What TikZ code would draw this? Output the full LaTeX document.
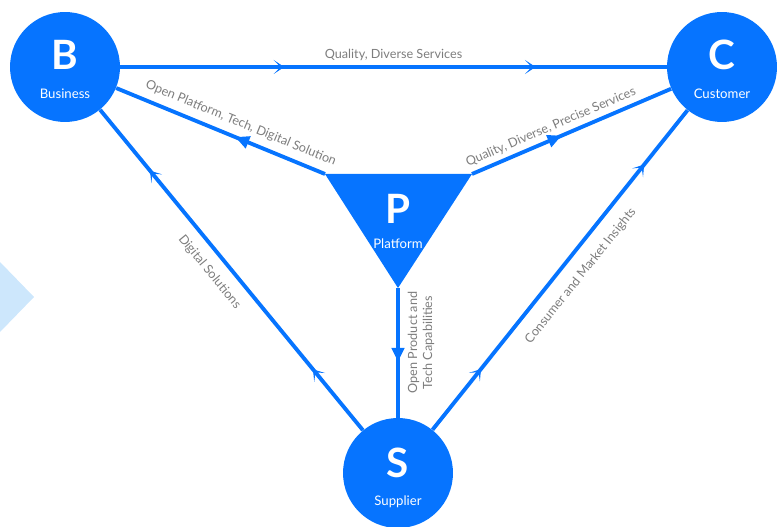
\documentclass[tikz,border=0pt]{standalone}
\usepackage{fontspec}
\setmainfont{Lato}
\usepackage{xcolor}
\usetikzlibrary{arrows.meta, positioning, decorations.markings}

\definecolor{hubblue}{RGB}{6,116,255}
\definecolor{flowgray}{RGB}{125,125,125}
\definecolor{paleblue}{RGB}{205,231,252}

\tikzset{
  chev/.tip={Stealth[length=6pt,width=8pt,inset=3.8pt]},
  tri/.tip={Triangle[length=8pt,width=7pt]},
}

\begin{document}
\begin{tikzpicture}[x=0.02cm, y=-0.02cm,
    hub/.style={circle, fill=hubblue, minimum size=2.2cm, inner sep=0pt},
    letter/.style={anchor=base, text=white, font=\fontsize{23}{23}\selectfont\bfseries},
    hubname/.style={anchor=base, text=white, font=\fontsize{7.5}{9}\selectfont},
    link/.style={draw=hubblue, line width=2.2pt},
    flowplain/.style={text=flowgray, font=\fontsize{7.2}{8.5}\selectfont, inner sep=1pt},
    flowtext/.style={flowplain, sloped},
    twochev/.style 2 args={postaction={decorate}, decoration={markings,
        mark=at position #1 with {\arrow{chev}},
        mark=at position #2 with {\arrow{chev}}}},
    onetri/.style={postaction={decorate}, decoration={markings,
        mark=at position #1 with {\arrow{tri}}}}
]
    \useasboundingbox (0,0) rectangle (778,527);

    % Side marker
    \fill[paleblue] (0,262) -- (34,297) -- (0,332) -- cycle;

    % Parties
    \node[hub] (B) at (65,67) {};
    \node[hub] (C) at (722,67) {};
    \node[hub] (S) at (398,473) {};

    % Platform corners
    \coordinate (pl) at (325,174);
    \coordinate (pr) at (472,174);
    \coordinate (pb) at (398,288);

    % Flows
    \draw[link, twochev={0.3}{0.76}] (B) -- (C)
        node[flowtext, midway, above=1.5pt] (qds) {Quality, Diverse Services};
    \draw[link, onetri=0.43] (pl) -- (B)
        node[flowtext, pos=0.43, above=3pt] (ops) {Open Platform, Tech, Digital Solution};
    \draw[link, onetri=0.45] (pr) -- (C)
        node[flowtext, pos=0.42, above=1.5pt] (qdp) {Quality, Diverse, Precise Services};
    \draw[link, onetri=0.57] (pb) -- (S)
        node[flowplain, pos=0.42, xshift=3.5pt, rotate=90, anchor=north, align=center] (optc) {Open Product and\\Tech Capabilities};
    \draw[link, twochev={0.19}{0.81}] (S) -- (B)
        node[flowtext, pos=0.53, below=5pt] (ds) {Digital Solutions};
    \draw[link, twochev={0.19}{0.83}] (S) -- (C)
        node[flowtext, pos=0.52, below=6pt] (cmi) {Consumer and Market Insights};

    % Platform
    \fill[hubblue] (pl) -- (pr) -- (pb) -- cycle;

    % Labels
    \node[letter] (Bl) at (65,70) {B};
    \node[hubname] (Bn) at (65,99) {Business};
    \node[letter] (Cl) at (722,70) {C};
    \node[hubname] (Cn) at (722,99) {Customer};
    \node[letter] (Pl) at (398,223) {P};
    \node[hubname] (Pn) at (398,248) {Platform};
    \node[letter] (Sl) at (398,477) {S};
    \node[hubname] (Sn) at (398,505) {Supplier};

\end{tikzpicture}
\end{document}
